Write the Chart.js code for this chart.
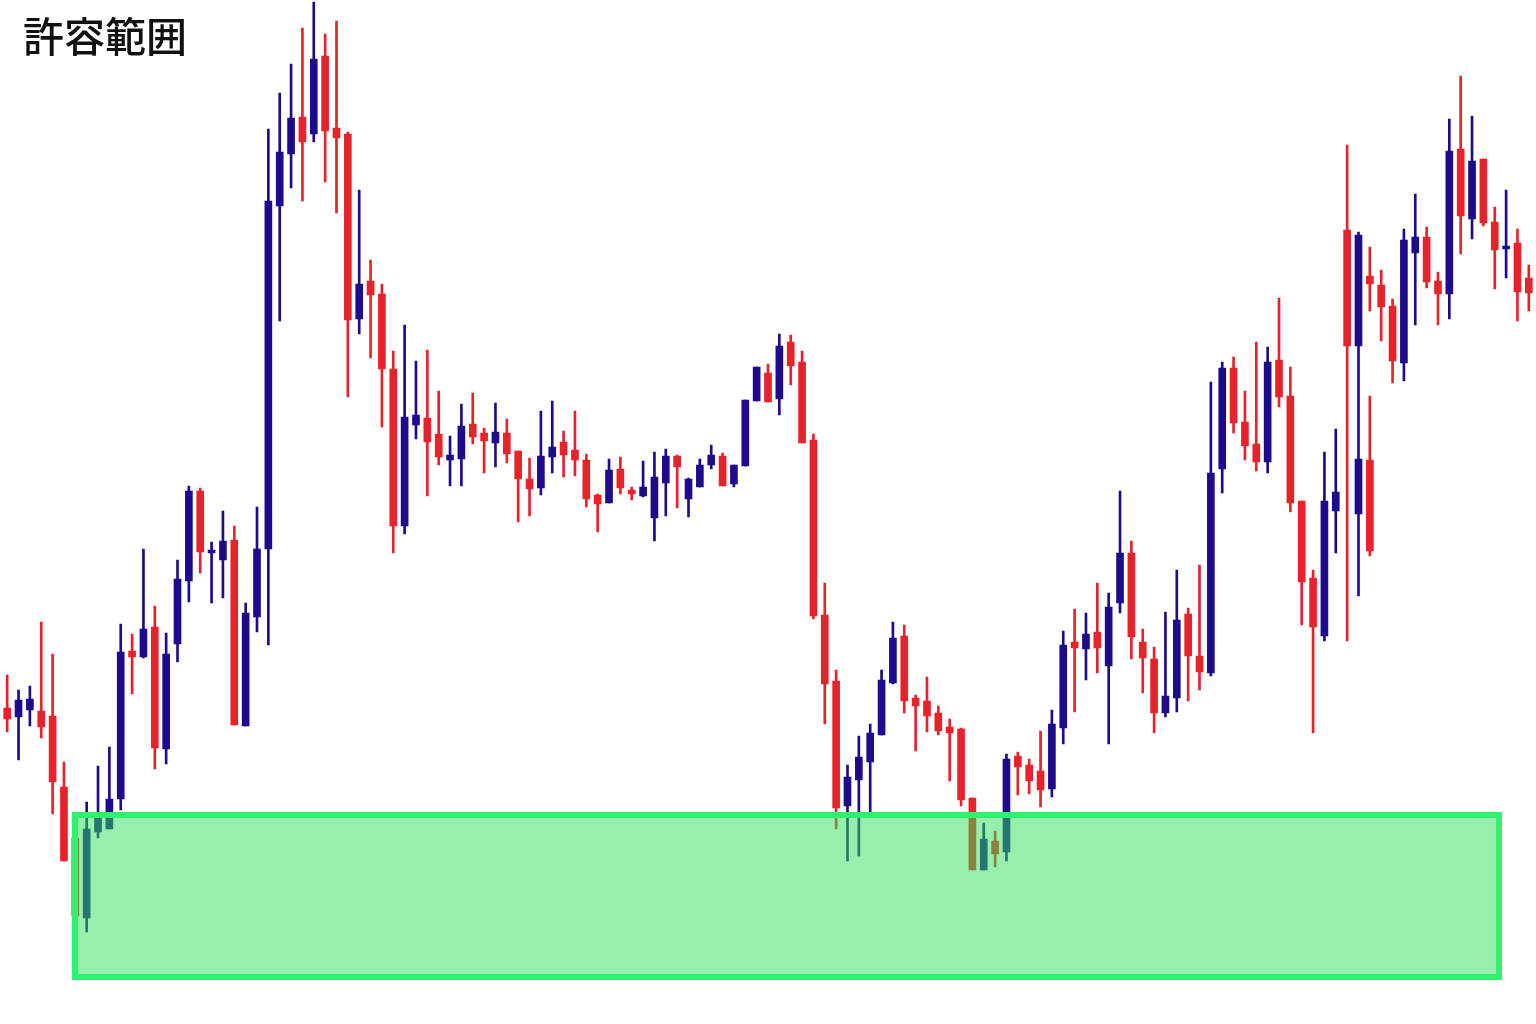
<!DOCTYPE html>
<html><head><meta charset="utf-8">
<script src="https://cdn.jsdelivr.net/npm/chart.js@4/dist/chart.umd.min.js"></script>
<style>
html,body{margin:0;padding:0;background:#fff;}
#wrap{position:relative;width:1536px;height:1024px;overflow:hidden;}
#title{position:absolute;left:23px;top:10px;font-family:"Noto Sans CJK JP","Noto Sans CJK SC",sans-serif;font-size:41px;font-weight:500;line-height:48px;color:#111;white-space:nowrap;}
canvas{display:block;}
</style></head>
<body><div id="wrap"><canvas id="c" width="1536" height="1024"></canvas><div id="title"></div></div>
<script>
const titleText = "許容範囲";

const openP = [
316,307,314,313,308,237,186,106,192,195,
225,373,367,397,275,380,443,533,471,464,
484,298,407,475,818,870,907,890,968,896,
890,705,743,730,655,498,599,606,590,564,
565,600,591,581,591,573,545,536,567,582,
574,564,529,521,555,534,528,506,541,568,
525,537,559,568,540,558,623,651,625,682,
662,584,409,343,218,244,262,289,341,388,
326,323,311,297,295,226,154,183,172,268,
259,253,235,296,382,375,392,358,421,471,
382,365,311,326,410,368,351,555,656,602,
580,562,664,628,523,446,388,513,794,678,
748,739,718,661,771,787,743,730,875,805,
865,802,775,781,746];
const highP = [
349,334,338,402,370,262,187,222,258,277,
400,390,475,418,391,464,538,536,482,513,
498,421,517,895,931,960,996,1022,990,1003,
892,834,764,740,673,699,663,674,633,588,
620,631,596,621,605,573,566,613,623,593,
613,570,530,565,567,537,563,572,575,569,
546,565,579,571,559,624,657,660,690,689,
673,590,441,354,259,288,300,354,402,399,
329,347,318,305,296,226,201,193,270,272,
265,293,314,393,415,411,441,431,533,483,
395,377,412,454,416,459,642,662,667,633,
682,677,726,657,523,454,572,595,879,792,
777,754,725,795,830,797,752,905,948,908,
865,817,834,795,759];
const lowP = [
292,264,298,286,210,163,108,92,186,195,
214,330,366,255,260,362,422,451,421,426,
299,298,392,379,703,836,823,882,842,811,
627,690,666,597,471,490,585,528,559,538,
538,580,551,557,561,502,508,529,551,547,
548,517,492,521,530,524,527,483,508,516,
507,537,555,538,537,558,623,622,609,639,
581,405,300,195,163,168,211,289,340,311,
273,292,289,243,218,154,154,157,163,229,
230,217,227,280,312,344,351,280,411,365,
331,291,307,312,323,334,348,531,591,564,
553,551,617,512,399,291,383,471,383,428,
713,683,641,643,699,736,699,705,770,785,
798,735,746,703,713];
const closeP = [
305,324,325,297,242,163,108,195,206,225,
372,367,395,276,370,445,533,472,474,483,
299,411,475,823,872,906,882,965,893,886,
704,740,729,655,498,607,609,582,567,569,
598,587,583,592,570,545,535,568,577,569,
564,525,520,554,536,530,537,547,568,557,
545,559,569,538,559,624,657,622,678,658,
581,408,340,216,247,267,291,344,386,323,
318,308,293,291,224,154,185,170,265,257,
243,234,300,379,376,390,376,417,471,387,
366,311,328,404,368,352,551,656,601,578,
562,662,627,521,442,397,523,532,678,789,
740,717,663,784,787,742,730,873,808,863,
801,774,778,732,731];

// overlapping duplicate candles visible in the picture
const extraIndex = [119, 120];
const extraOpen  = [510, 564];
const extraHigh  = [565, 628];
const extraLow   = [510, 468];
const extraClose = [565, 473];

// tolerance zone (in candle index / price units)
const zoneX = [5.97, 131.37];
const zoneY = [47, 209];

const BULL = '#1c0b8c';
const BEAR = '#e8222b';

document.getElementById('title').textContent = titleText;

const n = openP.length;
const labels = openP.map((_, i) => String(i + 1));
const colors = openP.map((o, i) => closeP[i] > o ? BULL : BEAR);
const wicks = lowP.map((l, i) => [l, highP[i]]);
const bodies = openP.map((o, i) => [o, closeP[i]]);

const exWick = new Array(n).fill(null);
const exBody = new Array(n).fill(null);
const exColors = new Array(n).fill(BULL);
extraIndex.forEach((idx, k) => {
  exWick[idx] = [extraLow[k], extraHigh[k]];
  exBody[idx] = [extraOpen[k], extraClose[k]];
  exColors[idx] = extraClose[k] > extraOpen[k] ? BULL : BEAR;
});

const zonePlugin = {
  id: 'zone',
  afterDatasetsDraw(chart) {
    const {ctx, scales: {x, y}} = chart;
    const x0 = x.getPixelForValue(zoneX[0]);
    const x1 = x.getPixelForValue(zoneX[1]);
    const y0 = y.getPixelForValue(zoneY[1]);
    const y1 = y.getPixelForValue(zoneY[0]);
    ctx.save();
    ctx.fillStyle = 'rgba(46,224,86,0.5)';
    ctx.fillRect(x0, y0, x1 - x0, y1 - y0);
    ctx.strokeStyle = '#33ef6e';
    ctx.lineWidth = 6;
    ctx.strokeRect(x0, y0, x1 - x0, y1 - y0);
    ctx.restore();
  }
};

new Chart(document.getElementById('c'), {
  type: 'bar',
  data: {
    labels,
    datasets: [
      {label: 'wick', data: wicks, backgroundColor: colors, barThickness: 2, grouped: false, order: 4},
      {label: 'body', data: bodies, backgroundColor: colors, barThickness: 7, grouped: false, order: 3, minBarLength: 2},
      {label: 'wick2', data: exWick, backgroundColor: exColors, barThickness: 2, grouped: false, order: 2},
      {label: 'body2', data: exBody, backgroundColor: exColors, barThickness: 7, grouped: false, order: 1, minBarLength: 2}
    ]
  },
  options: {
    responsive: false,
    animation: false,
    layout: {padding: {left: 1.5, right: 1.5, top: 0, bottom: 0}},
    plugins: {legend: {display: false}, tooltip: {enabled: false}, title: {display: false}},
    scales: {
      x: {type: 'category', display: false, offset: true},
      y: {type: 'linear', display: false, min: 0, max: 1024}
    }
  },
  plugins: [zonePlugin]
});
</script>
</body></html>
